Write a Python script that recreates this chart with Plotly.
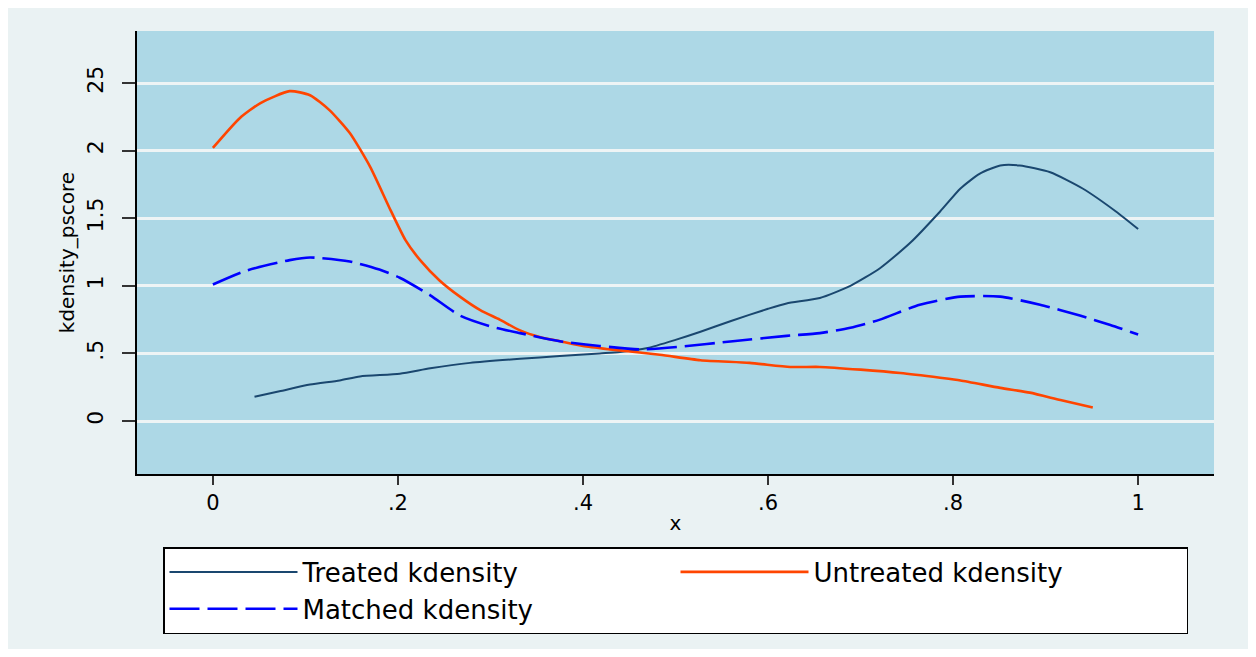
import plotly.graph_objects as go

# ---- data ----
treated_x = [0.045, 0.072, 0.105, 0.137, 0.159, 0.202, 0.235, 0.278, 0.332, 0.375, 0.418, 0.44,
             0.47, 0.5, 0.527, 0.56, 0.6, 0.62, 0.656, 0.689, 0.721, 0.754, 0.786, 0.808,
             0.829, 0.851, 0.872, 0.905, 0.94, 0.976, 1.0]
treated_y = [0.18, 0.22, 0.27, 0.30, 0.33, 0.35, 0.39, 0.43, 0.46, 0.48, 0.50, 0.51,
             0.54, 0.60, 0.66, 0.74, 0.83, 0.87, 0.91, 1.00, 1.13, 1.32, 1.55, 1.72,
             1.83, 1.89, 1.89, 1.84, 1.72, 1.55, 1.42]

untreated_x = [0.0, 0.029, 0.051, 0.083, 0.105, 0.126, 0.148, 0.170, 0.192, 0.208, 0.224,
               0.245, 0.267, 0.289, 0.310, 0.332, 0.354, 0.375, 0.4, 0.429, 0.483, 0.527,
               0.58, 0.624, 0.656, 0.7, 0.743, 0.786, 0.808, 0.851, 0.883, 0.916, 0.951]
untreated_y = [2.02, 2.24, 2.35, 2.44, 2.41, 2.30, 2.13, 1.88, 1.56, 1.34, 1.19,
               1.04, 0.92, 0.82, 0.75, 0.67, 0.62, 0.59, 0.555, 0.53, 0.49, 0.45,
               0.43, 0.40, 0.40, 0.38, 0.355, 0.32, 0.30, 0.245, 0.21, 0.155, 0.10]

matched_x = [0.0, 0.035, 0.083, 0.105, 0.148, 0.18, 0.202, 0.235, 0.267, 0.3, 0.332, 0.375,
             0.418, 0.462, 0.505, 0.562, 0.62, 0.656, 0.689, 0.721, 0.764, 0.808, 0.851,
             0.894, 0.937, 0.97, 1.0]
matched_y = [1.01, 1.11, 1.19, 1.21, 1.18, 1.12, 1.06, 0.93, 0.78, 0.70, 0.65, 0.59,
             0.555, 0.53, 0.55, 0.59, 0.63, 0.65, 0.69, 0.75, 0.86, 0.92, 0.92,
             0.86, 0.78, 0.71, 0.64]

series_names = ["Treated kdensity", "Untreated kdensity", "Matched kdensity"]
x_tickvals = [0, 0.2, 0.4, 0.6, 0.8, 1]
x_ticktext = ["0", ".2", ".4", ".6", ".8", "1"]
y_tickvals = [0, 0.5, 1, 1.5, 2, 2.5]
y_ticktext = ["0", ".5", "1", "1.5", "2", "25"]

FONT = "DejaVu Sans, Arial, sans-serif"

fig = go.Figure()
fig.add_trace(go.Scatter(x=treated_x, y=treated_y, mode="lines", name=series_names[0],
                         line=dict(color="#1A476F", width=2, shape="spline", smoothing=0.6)))
fig.add_trace(go.Scatter(x=untreated_x, y=untreated_y, mode="lines", name=series_names[1],
                         line=dict(color="#FF4500", width=2.6, shape="spline", smoothing=0.6)))
fig.add_trace(go.Scatter(x=matched_x, y=matched_y, mode="lines", name=series_names[2],
                         line=dict(color="#0000FF", width=2.6, shape="spline", smoothing=0.6,
                                   dash="30px,8px")))

# page offsets the figure by the 8px body margin
W, H = 1240, 641
L, T = 129, 23
R = W - 1206
B = H - 466
pw, ph = W - L - R, H - T - B

fig.update_layout(
    width=W, height=H, autosize=False,
    margin=dict(l=L, r=R, t=T, b=B, pad=0),
    paper_bgcolor="#EAF2F3",
    plot_bgcolor="#ADD8E6",
    font=dict(family=FONT, color="black"),
    showlegend=True,
    legend=dict(
        orientation="h",
        x=(155 - L) / pw, xanchor="left",
        y=(T + ph - 539) / ph, yanchor="top",
        bgcolor="white", bordercolor="black", borderwidth=1.5,
        font=dict(family=FONT, size=26, color="black"),
        itemwidth=128,
        entrywidth=368, entrywidthmode="pixels",
        traceorder="normal",
    ),
    xaxis=dict(
        range=[-0.082, 1.082],
        tickvals=x_tickvals, ticktext=x_ticktext,
        ticks="outside", ticklen=9, tickwidth=1.5, tickcolor="#333333",
        showline=True, linecolor="black", linewidth=1.5,
        showgrid=False, zeroline=False,
        tickfont=dict(family=FONT, size=21, color="black"),
        title=dict(text="x", font=dict(family=FONT, size=20, color="black"), standoff=2),
    ),
    yaxis=dict(
        range=[-0.392, 2.885],
        tickvals=y_tickvals, ticktext=y_ticktext,
        tickangle=-90,
        ticks="outside", ticklen=13, tickwidth=1.5, tickcolor="#333333",
        ticklabelstandoff=10,
        showline=True, linecolor="black", linewidth=1.5,
        showgrid=True, gridcolor="#EEF4F5", gridwidth=2.5,
        zeroline=False,
        tickfont=dict(family=FONT, size=22, color="black"),
        title=dict(text="kdensity_pscore", font=dict(family=FONT, size=20, color="black"), standoff=3),
    ),
)

fig.write_html("out.html")
